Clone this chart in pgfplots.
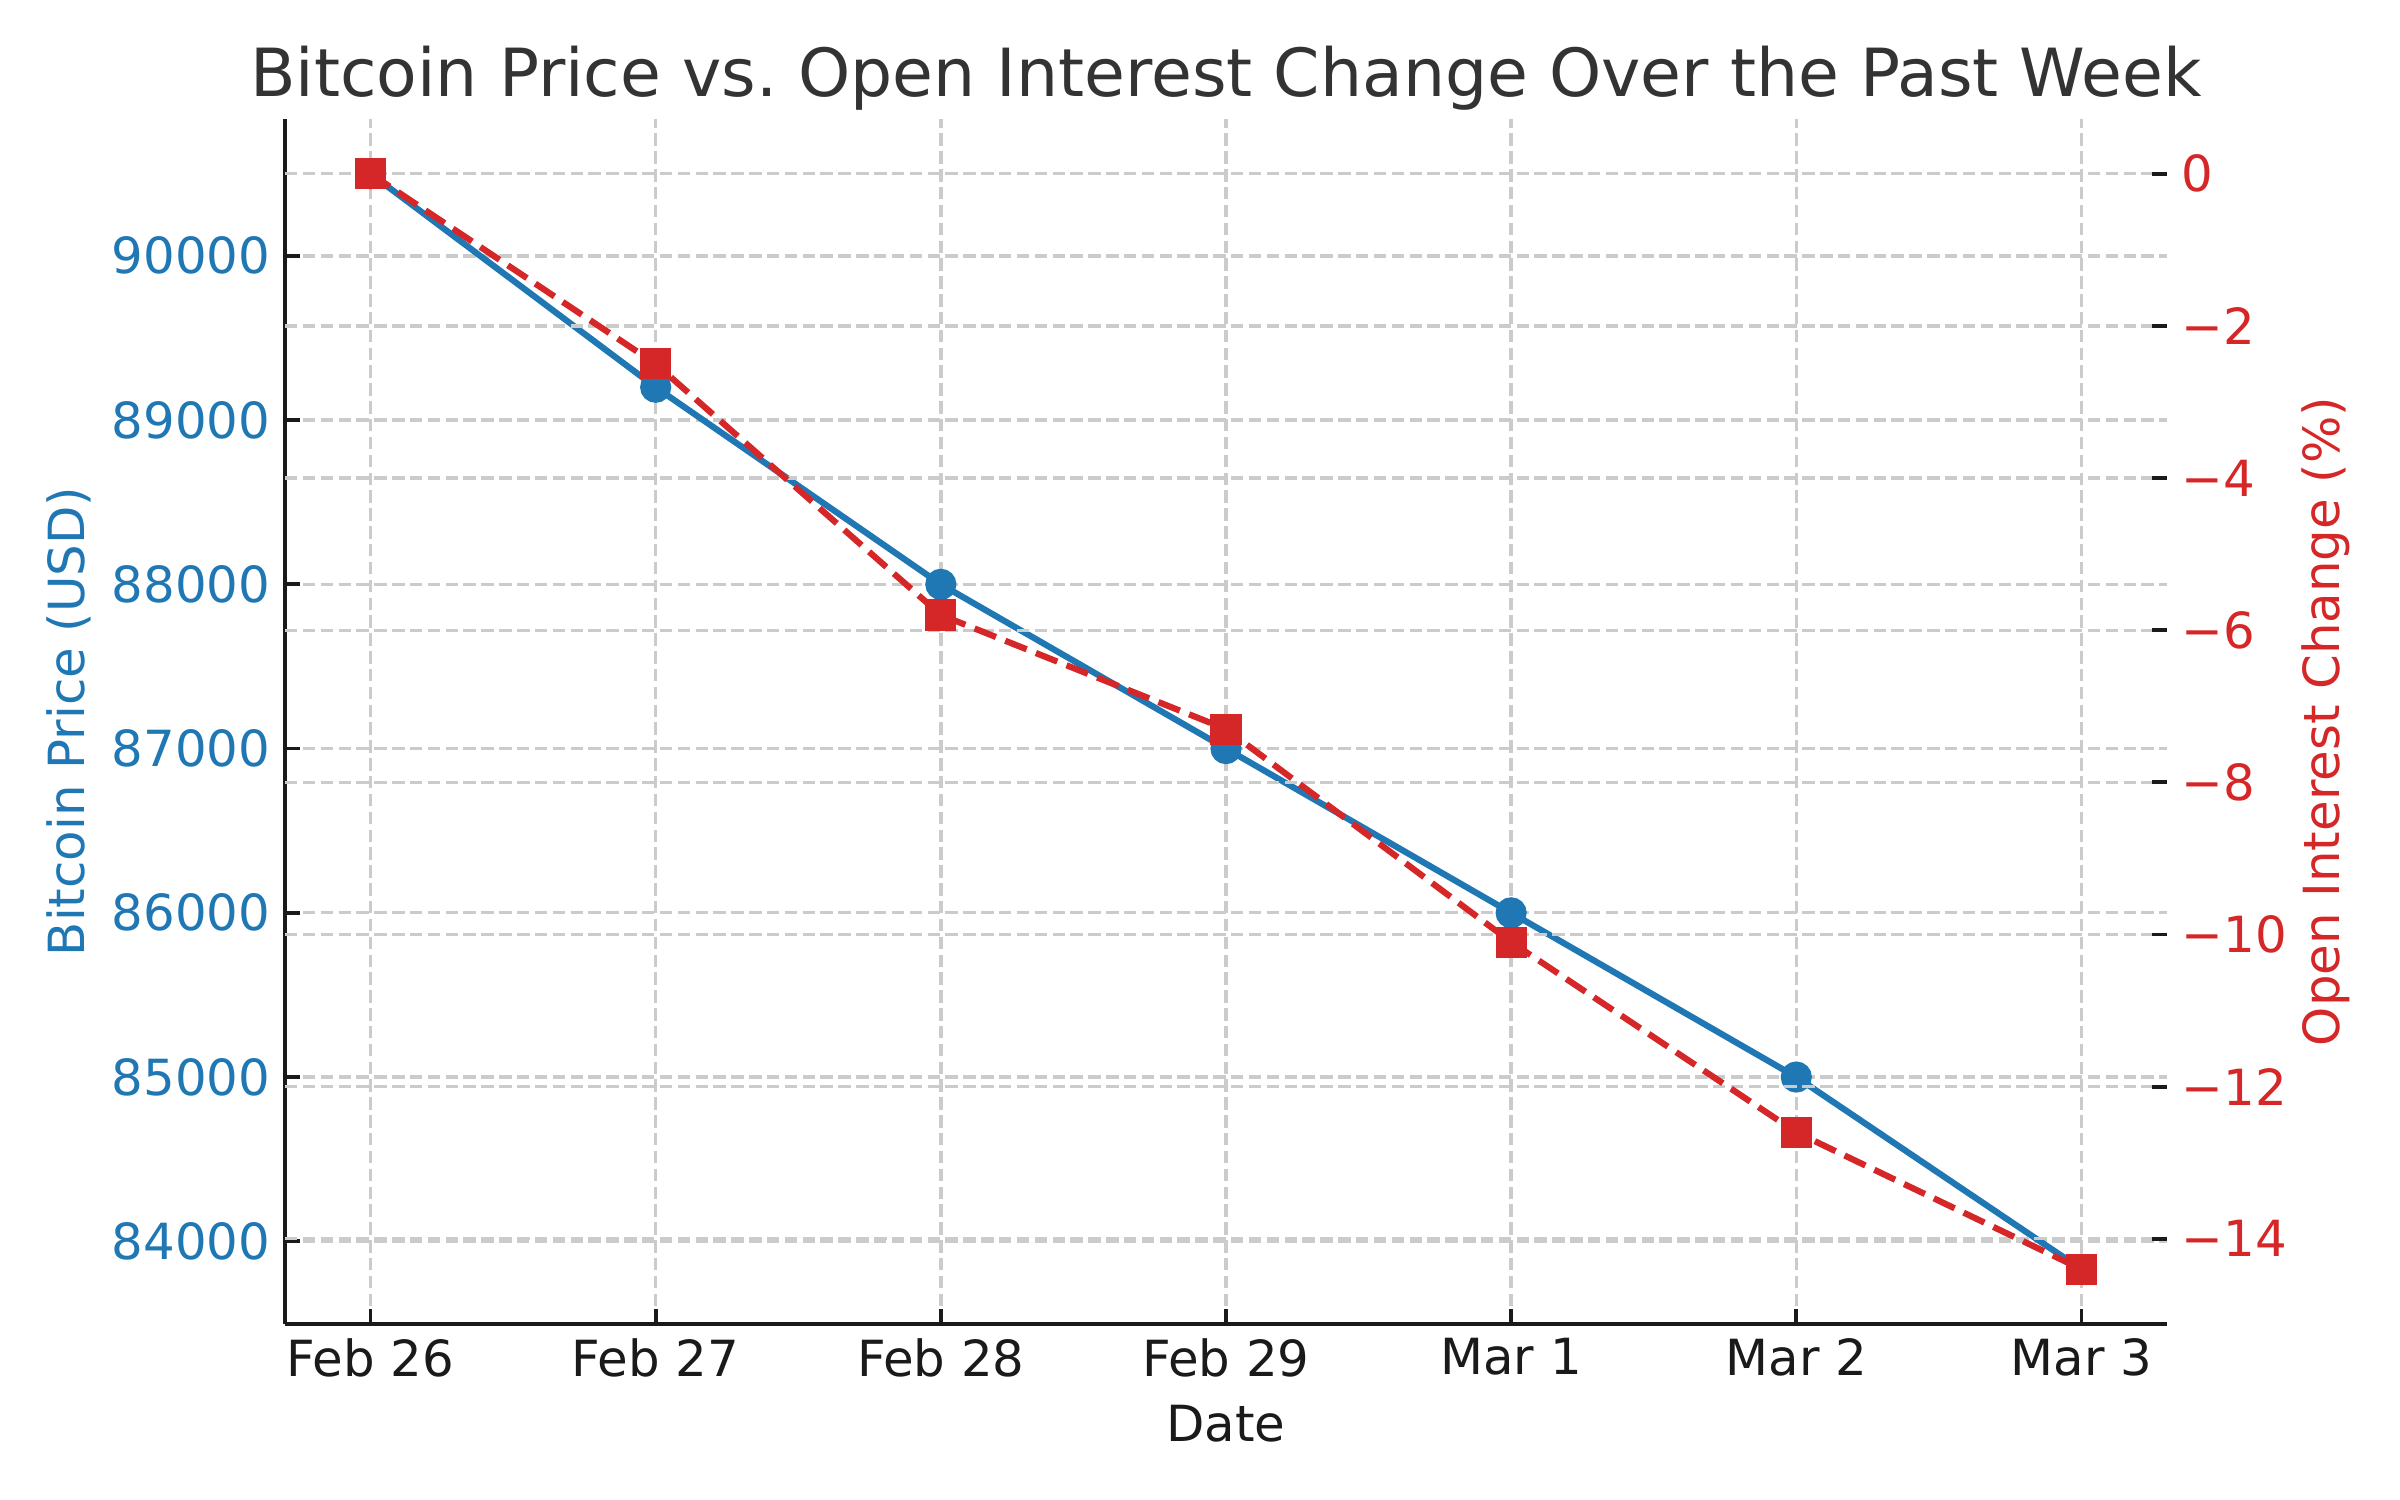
\documentclass[border=0pt]{standalone}
\usepackage{fontspec}
\setmainfont{DejaVu Sans}
\usepackage{pgfplots}
\pgfplotsset{compat=1.18}
\definecolor{mblue}{HTML}{1F77B4}
\definecolor{mred}{HTML}{D62728}
\definecolor{gridc}{HTML}{CBCBCB}
\definecolor{titlec}{HTML}{333333}
\definecolor{textc}{HTML}{1A1A1A}
\begin{document}
\begin{tikzpicture}
\path[use as bounding box] (0,0) rectangle (8in,5in);
\pgfplotsset{
  common/.style={
    at={(0.95in,0.5867in)}, anchor=south west,
    scale only axis, width=6.2733in, height=4.0167in,
    xmin=-0.3, xmax=6.3,
    scaled y ticks=false, scaled x ticks=false,
    tick align=inside,
    major tick length=3.6pt,
    tick style={textc, line width=0.9pt},
    grid style={gridc, dash pattern=on 3pt off 1.3pt, line width=0.8pt},
    ticklabel style={font=\fontsize{12}{14}\selectfont},
    label style={font=\fontsize{12}{14}\selectfont},
  }
}
\begin{axis}[common,
  axis x line*=bottom, axis y line*=left,
  axis line style={textc, line width=1pt, -},
  ymin=83496.5, ymax=90833.5,
  xtick={0,...,6},
  xticklabels={Feb 26,Feb 27,Feb 28,Feb 29,Mar 1,Mar 2,Mar 3},
  ytick={84000,85000,86000,87000,88000,89000,90000},
  yticklabels={84000,85000,86000,87000,88000,89000,90000},
  xticklabel style={textc},
  yticklabel style={mblue},
  xmajorgrids, ymajorgrids,
  xlabel={Date},
  xlabel style={textc, at={(axis description cs:0.5,-0.083)}, anchor=center},
  ylabel={Bitcoin Price (USD)},
  ylabel style={mblue, at={(axis description cs:-0.1148,0.5)}, anchor=center},
  every axis title shift=0pt,
  title={Bitcoin Price vs.\ Open Interest Change Over the Past Week},
  title style={titlec, font=\fontsize{16}{19}\selectfont, at={(axis description cs:0.5,1.019)}, anchor=base},
]
\addplot[mblue, line width=1.5pt, mark=*, mark size=3pt, mark options={solid}]
  coordinates {(0,90500)(1,89200)(2,88000)(3,87000)(4,86000)(5,85000)(6,83830)};
\end{axis}
\begin{axis}[common,
  hide x axis,
  axis y line*=right,
  y axis line style={draw=none},
  ymin=-15.12, ymax=0.72,
  ytick={-14,-12,-10,-8,-6,-4,-2,0},
  yticklabels={−14,−12,−10,−8,−6,−4,−2,0},
  yticklabel style={mred},
  ymajorgrids,
  ylabel={Open Interest Change (\%)},
  ylabel style={mred, at={(axis description cs:1.0845,0.5)}, anchor=center},
]
\addplot[mred, line width=1.5pt, dash pattern=on 5.55pt off 2.4pt, mark=square*, mark size=3pt, mark options={solid}]
  coordinates {(0,0)(1,-2.5)(2,-5.8)(3,-7.3)(4,-10.1)(5,-12.6)(6,-14.4)};
\end{axis}
\end{tikzpicture}
\end{document}
